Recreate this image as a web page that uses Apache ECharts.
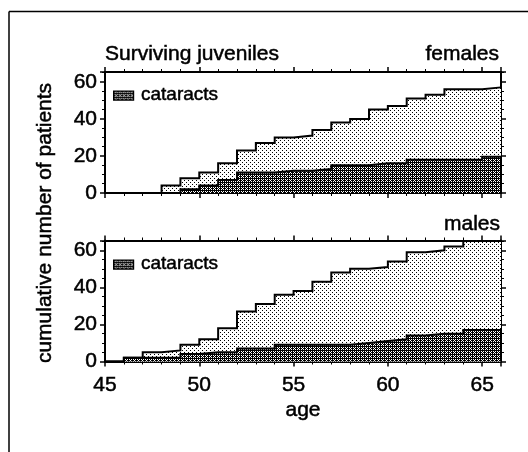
<!DOCTYPE html>
<html>
<head>
<meta charset="utf-8">
<script src="https://cdn.jsdelivr.net/npm/echarts@6/dist/echarts.min.js"></script>
<style>
html,body{margin:0;padding:0;background:#fff;}
#chart{width:528px;height:452px;}
</style>
</head>
<body>
<div id="chart"></div>
<script>
// ---- data ----
const ages = [45,46,47,48,49,50,51,52,53,54,55,56,57,58,59,60,61,62,63,64,65];
const ageEnd = 66;
const femalesTotal     = [0,0,0,4,8,11,16,23,27,30,31,34,38,40,45,47,51,53,56,56,57];
const femalesCataracts = [0,0,0,0,2,4,7,11,11,12,12,13,15,15,16,16,18,18,18,18,19.5];
const malesTotal       = [0,2,5,6,9,12,18,27,31,36,38,43,48,50,51,54,59,60,62,65,65];
const malesCataracts   = [0,2,2,2,4,5,5,7,7,9,9,9,9,10,11,12,14,15,15,17,17];
const xTicks = [45,50,55,60,65];
const yTicks = [0,20,40,60];

const FONT = 'Liberation Sans, Arial, Helvetica, sans-serif';
const TB = 0.5; // text thickening

function makePattern(size, isBlack) {
  const c = document.createElement('canvas');
  c.width = size; c.height = size;
  const ctx = c.getContext('2d');
  ctx.fillStyle = '#fff';
  ctx.fillRect(0, 0, size, size);
  ctx.fillStyle = '#000';
  for (let x = 0; x < size; x++) for (let y = 0; y < size; y++) {
    if (isBlack(x, y)) ctx.fillRect(x, y, 1, 1);
  }
  return { image: c, repeat: 'repeat' };
}
const lightPat = makePattern(4, (x, y) => (x === 0 && y === 0) || (x === 2 && y === 2));
const darkPat = makePattern(4, (x, y) => {
  const white = (x % 2 === 1 && y % 2 === 1) || (x === 2 && y === 0);
  return !white;
});

// each value holds from its age to the next age (step function)
function steps(vals) {
  const d = [];
  const ends = ages.slice(1).concat([ageEnd]);
  ages.forEach((a, i) => {
    d.push([a, vals[i]]);
    d.push([ends[i], vals[i]]);
  });
  return d;
}

const grids = [
  { left: 105, top: 72, width: 396, height: 121 },
  { left: 105, top: 240.5, width: 396, height: 121 }
];

function xAx(gi, pos, labels) {
  return {
    type: 'value', gridIndex: gi, position: pos, min: 45, max: ageEnd, interval: 5,
    axisLine: { show: true, onZero: false, lineStyle: { color: '#000', width: 2 } },
    axisTick: { show: true, length: 5, lineStyle: { color: '#000', width: 1.5 } },
    minorTick: { show: true, splitNumber: 5, length: 3, lineStyle: { color: '#000', width: 1 } },
    splitLine: { show: false },
    axisLabel: {
      show: labels, color: '#000', fontFamily: FONT, fontSize: 21, margin: 13,
      textBorderColor: '#000', textBorderWidth: TB,
      formatter: v => (xTicks.indexOf(v) >= 0 ? String(v) : ''),
      showMaxLabel: false
    },
    name: labels ? 'age' : '',
    nameLocation: 'middle', nameGap: 38,
    nameTextStyle: { color: '#000', fontFamily: FONT, fontSize: 21, textBorderColor: '#000', textBorderWidth: TB }
  };
}
function yAx(gi, pos, labels) {
  return {
    type: 'value', gridIndex: gi, position: pos, min: 0, max: 65.3, interval: 20,
    axisLine: { show: true, onZero: false, lineStyle: { color: '#000', width: 2 } },
    axisTick: { show: true, length: 5, lineStyle: { color: '#000', width: 1.5 } },
    minorTick: { show: true, splitNumber: 4, length: 3, lineStyle: { color: '#000', width: 1 } },
    splitLine: { show: false },
    axisLabel: {
      show: labels, color: '#000', fontFamily: FONT, fontSize: 21, margin: 8,
      textBorderColor: '#000', textBorderWidth: TB,
      formatter: v => (yTicks.indexOf(v) >= 0 ? String(v) : ''),
      showMaxLabel: false
    }
  };
}

function stepSeries(name, vals, gi, fill, z) {
  return {
    type: 'line', name: name, data: steps(vals),
    xAxisIndex: gi * 2, yAxisIndex: gi * 2,
    symbol: 'none', silent: true, z: z,
    lineStyle: { color: '#000', width: 2, join: 'miter' },
    areaStyle: { color: fill, opacity: 1 },
    animation: false
  };
}

function txt(text, x, y, size, align, extra) {
  return Object.assign({
    type: 'text', x: x, y: y, z: 100,
    style: { text: text, font: size + 'px ' + FONT, fill: '#000', stroke: '#000', lineWidth: TB,
      align: align, textAlign: align, verticalAlign: 'middle', textVerticalAlign: 'middle' }
  }, extra || {});
}

function legendItems(top) {
  return [
    { type: 'rect', left: 113, top: top - 4.5, shape: { width: 20, height: 9 },
      style: { fill: darkPat, stroke: '#000', lineWidth: 1.2 }, z: 100 },
    txt('cataracts', 141, top, 19, 'left')
  ];
}

const chart = echarts.init(document.getElementById('chart'), null, { renderer: 'canvas' });
chart.setOption({
  animation: false,
  backgroundColor: '#fff',
  grid: grids,
  xAxis: [xAx(0, 'bottom', false), xAx(0, 'top', false), xAx(1, 'bottom', true), xAx(1, 'top', false)],
  yAxis: [yAx(0, 'left', true), yAx(0, 'right', false), yAx(1, 'left', true), yAx(1, 'right', false)],
  series: [
    stepSeries('total', femalesTotal, 0, lightPat, 2),
    stepSeries('cataracts', femalesCataracts, 0, darkPat, 3),
    stepSeries('total', malesTotal, 1, lightPat, 2),
    stepSeries('cataracts', malesCataracts, 1, darkPat, 3)
  ],
  graphic: [
    { type: 'line', shape: { x1: 9, y1: 11.5, x2: 528, y2: 11.5 }, style: { stroke: '#000', lineWidth: 1.5 } },
    { type: 'line', shape: { x1: 9, y1: 11.5, x2: 9, y2: 452 }, style: { stroke: '#000', lineWidth: 1.5 } },
    txt('Surviving juveniles', 105, 54, 21, 'left'),
    txt('females', 499, 54, 21, 'right'),
    txt('males', 500, 224, 21, 'right'),
    txt('cumulative number of patients', 45, 223, 21, 'center', { rotation: Math.PI / 2 })
  ].concat(legendItems(95), legendItems(264))
});
</script>
</body>
</html>
